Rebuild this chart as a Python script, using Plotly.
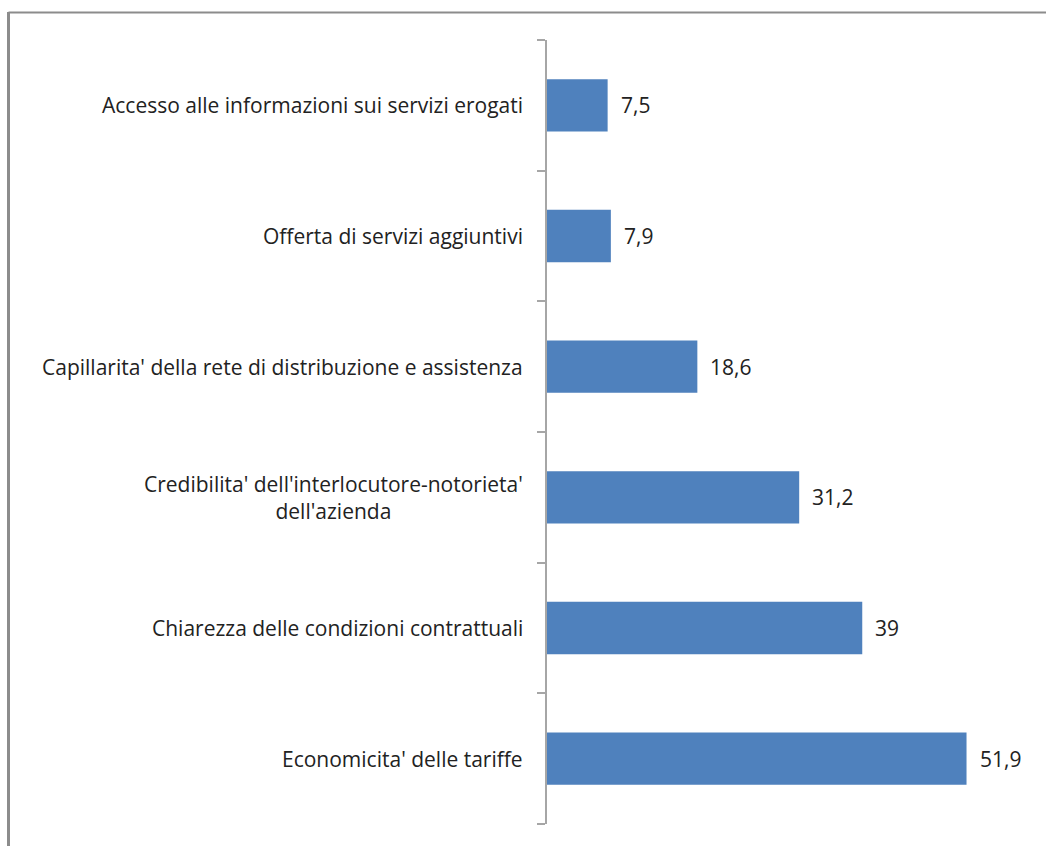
import plotly.graph_objects as go

# Survey factors (bottom to top) and their percentages
categories = [
    "Economicita' delle tariffe",
    "Chiarezza delle condizioni contrattuali",
    "Credibilita' dell'interlocutore-notorieta'<br>dell'azienda",
    "Capillarita' della rete di distribuzione e assistenza",
    "Offerta di servizi aggiuntivi",
    "Accesso alle informazioni sui servizi erogati",
]
values = [51.9, 39, 31.2, 18.6, 7.9, 7.5]

W, H = 1046, 846
L, R, T, B = 547, 1032, 40, 824
FONT = "Open Sans"
FSIZE = 21
TXT = "#222222"

fig = go.Figure(
    go.Bar(
        x=values,
        y=categories,
        orientation="h",
        marker=dict(color="#4F81BD", line=dict(width=0)),
        width=0.4,
        hoverinfo="skip",
    )
)

annotations = []
# value labels to the right of each bar
for c, v in zip(categories, values):
    annotations.append(dict(
        x=v, y=c, xref="x", yref="y", text=f"{v:g}".replace(".", ","),
        showarrow=False, xanchor="left", xshift=11,
        font=dict(family=FONT, size=FSIZE, color=TXT),
    ))
# category labels left of the axis, centred when wrapped
for c in categories:
    annotations.append(dict(
        x=0, y=c, xref="paper", yref="y", text=c,
        showarrow=False, xanchor="right", xshift=-22, align="center",
        font=dict(family=FONT, size=FSIZE, color=TXT),
    ))

def px_x(p):
    return (p - L) / (R - L)

def px_y(p):
    return (B - p) / (B - T)

shapes = [
    # outer frame lines (top and left)
    dict(type="line", xref="paper", yref="paper",
         x0=px_x(8.5), x1=px_x(W + 5), y0=px_y(12.5), y1=px_y(12.5),
         line=dict(color="#8c8c8c", width=2)),
    dict(type="line", xref="paper", yref="paper",
         x0=px_x(8.5), x1=px_x(8.5), y0=px_y(12), y1=px_y(H + 5),
         line=dict(color="#8c8c8c", width=3)),
]

fig.update_layout(
    width=W, height=H,
    margin=dict(l=L, r=W - R, t=T, b=H - B),
    paper_bgcolor="white", plot_bgcolor="white",
    showlegend=False,
    xaxis=dict(range=[0, 60], visible=False, fixedrange=True),
    yaxis=dict(
        type="category",
        showticklabels=False,
        showline=True, linecolor="#a6a6a6", linewidth=2,
        ticks="outside", tickson="boundaries", ticklen=8,
        tickcolor="#a6a6a6", tickwidth=1.5,
        showgrid=False, zeroline=False,
    ),
    annotations=annotations,
    shapes=shapes,
)

fig.write_html("out.html")
